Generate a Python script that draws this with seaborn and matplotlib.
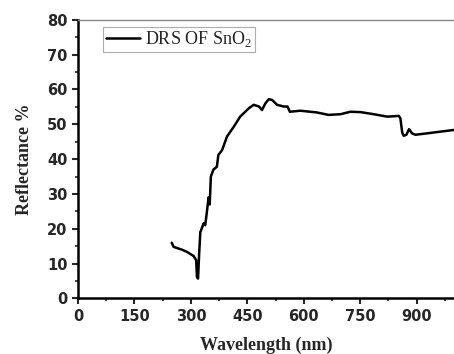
import matplotlib
matplotlib.use("Agg")
import matplotlib.pyplot as plt
import seaborn as sns
import pandas as pd
from matplotlib.ticker import MultipleLocator

wavelength = [249, 254, 276, 289, 307, 314, 316, 319, 322, 325, 334, 338, 342, 347, 350,
              353, 360, 369, 373, 383, 396, 414, 431, 454, 467, 481, 489, 498, 507, 516,
              529, 547, 557, 563, 591, 635, 666, 698, 724, 751, 786, 822, 853, 857, 862,
              866, 873, 880, 888, 897, 928, 964, 1001]
reflectance = [16.0, 14.8, 14.0, 13.4, 12.2, 11.0, 6.2, 5.7, 13.0, 19.0, 21.6, 21.0, 24.4, 29.0, 27.0,
               35.0, 37.0, 37.8, 41.2, 42.6, 46.5, 49.3, 52.2, 54.6, 55.6, 55.1, 54.1, 56.0, 57.2, 57.0,
               55.6, 55.1, 55.1, 53.6, 53.9, 53.4, 52.7, 52.9, 53.6, 53.5, 52.9, 52.2, 52.4, 51.7, 47.6,
               46.7, 47.0, 48.6, 47.4, 47.0, 47.4, 47.9, 48.4]
series_label = "DRS OF SnO$_2$"
x_ticks = [0, 150, 300, 450, 600, 750, 900]
y_ticks = [0, 10, 20, 30, 40, 50, 60, 70, 80]

sns.set_style("ticks")
plt.rcParams["font.family"] = ["DejaVu Sans"]
plt.rcParams["mathtext.fontset"] = "custom"
plt.rcParams["mathtext.rm"] = "Liberation Serif"

df = pd.DataFrame({"Wavelength": wavelength, "Reflectance": reflectance})

fig = plt.figure(figsize=(4.54, 3.54), dpi=100)
ax = fig.add_axes([0.172, 0.157, 0.83, 0.787])
sns.lineplot(data=df, x="Wavelength", y="Reflectance", color="black", linewidth=1.8,
             ax=ax, label=series_label)

ax.set_xlim(0, 1002)
ax.set_ylim(0, 80)
ax.set_xticks(x_ticks)
ax.set_yticks(y_ticks)
ax.xaxis.set_minor_locator(MultipleLocator(75))
ax.yaxis.set_minor_locator(MultipleLocator(5))
ax.tick_params(which="major", direction="out", length=4.5, width=1.5, labelsize=10.5, pad=3)
ax.tick_params(which="minor", direction="out", length=2.5, width=1.2)
for lab in ax.get_xticklabels() + ax.get_yticklabels():
    lab.set_fontweight("bold")

for s in ["left", "bottom"]:
    ax.spines[s].set_linewidth(1.8)
    ax.spines[s].set_color("black")
ax.spines["top"].set_visible(True)
ax.spines["top"].set_color("#888888")
ax.spines["top"].set_linewidth(1.0)
ax.spines["right"].set_visible(False)

ax.set_xlabel("Wavelength (nm)", family=["Liberation Serif"], fontweight="bold", fontsize=13, labelpad=9)
ax.set_ylabel("Reflectance %", family=["Liberation Serif"], fontweight="bold", fontsize=13, labelpad=10)

leg = ax.legend(loc="upper left", bbox_to_anchor=(0.066, 0.975), frameon=True, fancybox=False,
                prop={"family": "Liberation Serif", "size": 13}, handlelength=1.9,
                borderpad=0.15, handletextpad=0.3, borderaxespad=0)
leg.get_frame().set_edgecolor("#999999")
leg.get_frame().set_linewidth(0.8)

fig.savefig("out.png", dpi=100)
